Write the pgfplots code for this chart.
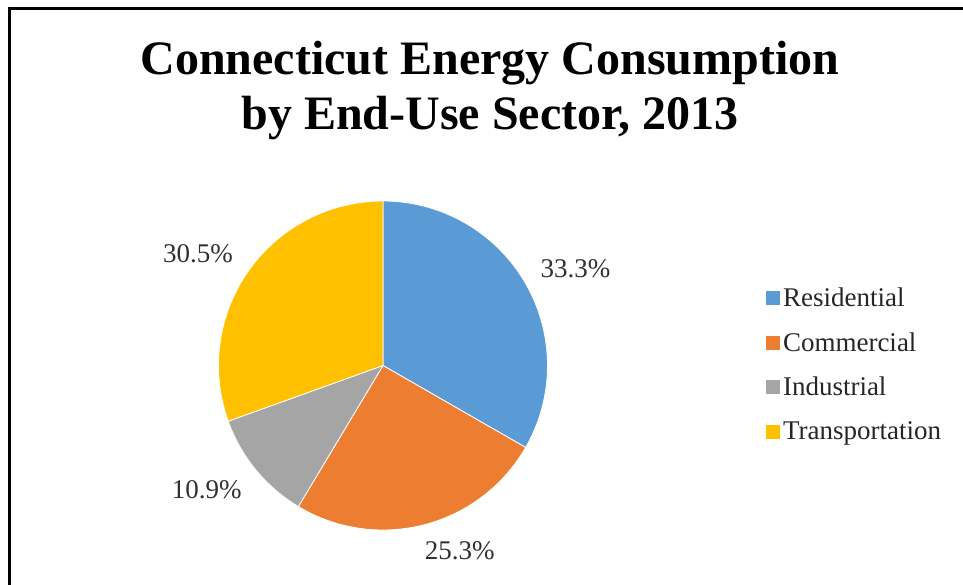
\documentclass[border=0pt]{standalone}
\usepackage{pgfplots}
\pgfplotsset{compat=1.18}
\usepackage{pgfplotstable}
\usepackage{fontspec}
\setmainfont{Liberation Serif}
\definecolor{resblue}{HTML}{5B9BD5}
\definecolor{comorange}{HTML}{ED7D31}
\definecolor{indgray}{HTML}{A5A5A5}
\definecolor{trgold}{HTML}{FFC000}
\definecolor{lbl}{HTML}{303030}

\pgfplotstableread{
sector value
Residential 33.3
Commercial 25.3
Industrial 10.9
Transportation 30.5
}\piedata

\pgfplotstablegetelem{0}{value}\of\piedata \let\vA\pgfplotsretval
\pgfplotstablegetelem{1}{value}\of\piedata \let\vB\pgfplotsretval
\pgfplotstablegetelem{2}{value}\of\piedata \let\vC\pgfplotsretval
\pgfplotstablegetelem{3}{value}\of\piedata \let\vD\pgfplotsretval
\pgfmathsetmacro\aA{90}
\pgfmathsetmacro\aB{\aA-3.6*\vA}
\pgfmathsetmacro\aC{\aB-3.6*\vB}
\pgfmathsetmacro\aD{\aC-3.6*\vC}
\pgfmathsetmacro\aE{\aD-3.6*\vD}
\def\cx{383}
\def\cy{218.5}
\def\rr{164.5}

\begin{document}
\begin{tikzpicture}
\begin{axis}[
  name=ax,
  scale only axis,
  width=963pt, height=584pt,
  xmin=0, xmax=963, ymin=0, ymax=584,
  hide axis,
  clip=false,
  legend style={draw=none, fill=none, at={(axis cs:765,219.5)}, anchor=west,
    font=\fontsize{27}{30}\selectfont, text=black!85, row sep=20.5pt,
    inner xsep=0pt},
  legend cell align=left,
  legend image code/.code={\fill[#1] (0pt,-7.5pt) rectangle (15pt,7.5pt);},
]
\addplot[fill=resblue, draw=white, line width=0.8pt, domain=\aB:\aA, samples=90, variable=\t]
  ({\cx+\rr*cos(\t)},{\cy+\rr*sin(\t)}) -- (axis cs:\cx,\cy) -- cycle;
\addlegendentry{Residential}
\addplot[fill=comorange, draw=white, line width=0.8pt, domain=\aC:\aB, samples=90, variable=\t]
  ({\cx+\rr*cos(\t)},{\cy+\rr*sin(\t)}) -- (axis cs:\cx,\cy) -- cycle;
\addlegendentry{Commercial}
\addplot[fill=indgray, draw=white, line width=0.8pt, domain=\aD:\aC, samples=60, variable=\t]
  ({\cx+\rr*cos(\t)},{\cy+\rr*sin(\t)}) -- (axis cs:\cx,\cy) -- cycle;
\addlegendentry{Industrial}
\addplot[fill=trgold, draw=white, line width=0.8pt, domain=\aE:\aD, samples=90, variable=\t]
  ({\cx+\rr*cos(\t)},{\cy+\rr*sin(\t)}) -- (axis cs:\cx,\cy) -- cycle;
\addlegendentry{Transportation}

\node[anchor=base, font=\fontsize{27}{30}\selectfont, text=lbl] at (axis cs:575.5,306.3) {33.3\%};
\node[anchor=base, font=\fontsize{27}{30}\selectfont, text=lbl] at (axis cs:459.7,24.7) {25.3\%};
\node[anchor=base, font=\fontsize{27}{30}\selectfont, text=lbl] at (axis cs:206.7,85.7) {10.9\%};
\node[anchor=base, font=\fontsize{27}{30}\selectfont, text=lbl] at (axis cs:198,321.3) {30.5\%};

\node[anchor=base, font=\bfseries\fontsize{48}{55}\selectfont] at (axis cs:490,509) {Connecticut Energy Consumption};
\node[anchor=base, font=\bfseries\fontsize{48}{55}\selectfont] at (axis cs:490,454) {by End-Use Sector, 2013};

\draw[line width=3pt, line cap=rect] (axis cs:9.7,0) -- (axis cs:9.7,575.3) -- (axis cs:963,575.3);
\end{axis}
\pgfresetboundingbox
\path (ax.south west) rectangle (ax.north east);
\end{tikzpicture}
\end{document}
